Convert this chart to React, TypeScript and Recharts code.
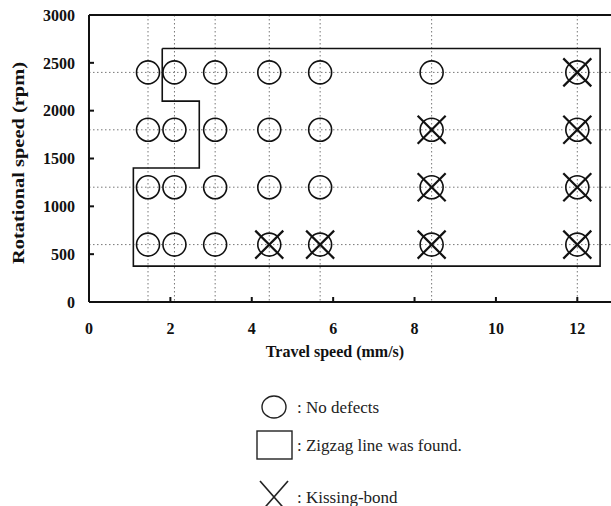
import React from 'react';
import { ScatterChart, Scatter, XAxis, YAxis, CartesianGrid, ReferenceLine, Label } from 'recharts';

const travelSpeeds = [1.45, 2.1, 3.1, 4.43, 5.68, 8.42, 12];
const rotationalSpeeds = [600, 1200, 1800, 2400];
const xTicks = [0, 2, 4, 6, 8, 10, 12];
const yTicks = [0, 500, 1000, 1500, 2000, 2500, 3000];

const noDefectPoints = [
  { x: 1.45, y: 600 }, { x: 1.45, y: 1200 }, { x: 1.45, y: 1800 }, { x: 1.45, y: 2400 },
  { x: 2.1, y: 600 }, { x: 2.1, y: 1200 }, { x: 2.1, y: 1800 }, { x: 2.1, y: 2400 },
  { x: 3.1, y: 600 }, { x: 3.1, y: 1200 }, { x: 3.1, y: 1800 }, { x: 3.1, y: 2400 },
  { x: 4.43, y: 600 }, { x: 4.43, y: 1200 }, { x: 4.43, y: 1800 }, { x: 4.43, y: 2400 },
  { x: 5.68, y: 600 }, { x: 5.68, y: 1200 }, { x: 5.68, y: 1800 }, { x: 5.68, y: 2400 },
  { x: 8.42, y: 600 }, { x: 8.42, y: 1200 }, { x: 8.42, y: 1800 }, { x: 8.42, y: 2400 },
  { x: 12, y: 600 }, { x: 12, y: 1200 }, { x: 12, y: 1800 }, { x: 12, y: 2400 },
];

const kissingBondPoints = [
  { x: 4.43, y: 600 }, { x: 5.68, y: 600 },
  { x: 8.42, y: 600 }, { x: 8.42, y: 1200 }, { x: 8.42, y: 1800 },
  { x: 12, y: 600 }, { x: 12, y: 1200 }, { x: 12, y: 1800 }, { x: 12, y: 2400 },
];

const zigzagBoundary = [
  { x: 1.8, y: 2650 }, { x: 12.56, y: 2650 }, { x: 12.56, y: 375 }, { x: 1.09, y: 375 },
  { x: 1.09, y: 1400 }, { x: 2.71, y: 1400 }, { x: 2.71, y: 2100 }, { x: 1.8, y: 2100 },
  { x: 1.8, y: 2650 },
];

const legendItems = [
  { kind: 'circle', text: ': No defects' },
  { kind: 'square', text: ': Zigzag line was found.' },
  { kind: 'cross', text: ': Kissing-bond' },
];

const SERIF = '"Liberation Serif", "Times New Roman", serif';

const CircleShape = (props: any) => {
  const { cx, cy } = props;
  return <circle cx={cx} cy={cy} r={11.5} fill="none" stroke="#111" strokeWidth={1.6} />;
};

const CrossShape = (props: any) => {
  const { cx, cy } = props;
  const d = 14;
  return (
    <g stroke="#111" strokeWidth={2.2}>
      <line x1={cx - d} y1={cy - d} x2={cx + d} y2={cy + d} />
      <line x1={cx - d} y1={cy + d} x2={cx + d} y2={cy - d} />
    </g>
  );
};

const NoShape = () => <g />;

const tickStyle = { fontSize: 16, fontWeight: 700, fill: '#111', fontFamily: SERIF };

const LegendBlock = () => (
  <svg width={320} height={120} style={{ position: 'absolute', left: 250, top: 392 }}>
    {legendItems.map((item, i) => {
      const cy = [15, 53, 105][i];
      const cx = 24;
      let mark = null;
      if (item.kind === 'circle') {
        mark = <ellipse cx={cx} cy={cy} rx={12} ry={11} fill="none" stroke="#222" strokeWidth={1.4} />;
      } else if (item.kind === 'square') {
        mark = <rect x={cx - 17} y={cy - 14} width={35} height={28} fill="none" stroke="#222" strokeWidth={1.4} />;
      } else {
        mark = (
          <g stroke="#222" strokeWidth={1.6}>
            <line x1={cx - 14} y1={cy - 16} x2={cx + 14} y2={cy + 16} />
            <line x1={cx - 14} y1={cy + 16} x2={cx + 14} y2={cy - 16} />
          </g>
        );
      }
      return (
        <g key={item.kind}>
          {mark}
          <text x={47} y={cy} dominantBaseline="central" fontFamily={SERIF} fontSize={17} fill="#222">
            {item.text}
          </text>
        </g>
      );
    })}
  </svg>
);

export default function App() {
  return (
    <div style={{ position: 'absolute', left: 0, top: 0, width: 611, height: 506, overflow: 'hidden', background: '#fff' }}>
      <ScatterChart width={619} height={506} margin={{ top: 15, right: 1, left: 29, bottom: 154 }}>
        <CartesianGrid
          horizontal
          vertical
          horizontalValues={rotationalSpeeds}
          verticalValues={travelSpeeds}
          stroke="#777"
          strokeDasharray="1.5 2.5"
        />
        <XAxis
          type="number"
          dataKey="x"
          domain={[0, 13]}
          ticks={xTicks}
          allowDataOverflow
          height={50}
          axisLine={{ stroke: '#111', strokeWidth: 2 }}
          tickLine={{ stroke: '#111', strokeWidth: 2 }}
          tickSize={-5}
          tickMargin={26}
          tick={tickStyle}
          interval={0}
        >
          <Label
            content={(p: any) => {
              const vb = p.viewBox || {};
              return (
                <text x={vb.x + 246} y={351} textAnchor="middle" dominantBaseline="central" fontFamily={SERIF} fontSize={16} fontWeight={700} fill="#111">
                  Travel speed (mm/s)
                </text>
              );
            }}
          />
        </XAxis>
        <YAxis
          type="number"
          dataKey="y"
          domain={[0, 3000]}
          ticks={yTicks}
          width={60}
          axisLine={{ stroke: '#111', strokeWidth: 2 }}
          tickLine={{ stroke: '#111', strokeWidth: 2 }}
          tickSize={-5}
          tickMargin={19}
          tick={tickStyle}
          interval={0}
        >
          <Label
            content={() => (
              <text
                x={18}
                y={163}
                transform="rotate(-90 18 163)"
                textAnchor="middle"
                dominantBaseline="central"
                fontFamily={SERIF}
                fontSize={17}
                fontWeight={700}
                fill="#111"
                textLength={202}
                lengthAdjust="spacingAndGlyphs"
              >
                Rotational speed (rpm)
              </text>
            )}
          />
        </YAxis>
        <ReferenceLine y={3000} stroke="#111" strokeWidth={2} ifOverflow="visible" />
        <Scatter
          name="Zigzag line was found."
          data={zigzagBoundary}
          line={{ stroke: '#111', strokeWidth: 1.6 }}
          lineType="joint"
          shape={NoShape}
          isAnimationActive={false}
        />
        <Scatter name="No defects" data={noDefectPoints} shape={CircleShape} isAnimationActive={false} />
        <Scatter name="Kissing-bond" data={kissingBondPoints} shape={CrossShape} isAnimationActive={false} />
      </ScatterChart>
      <LegendBlock />
    </div>
  );
}
